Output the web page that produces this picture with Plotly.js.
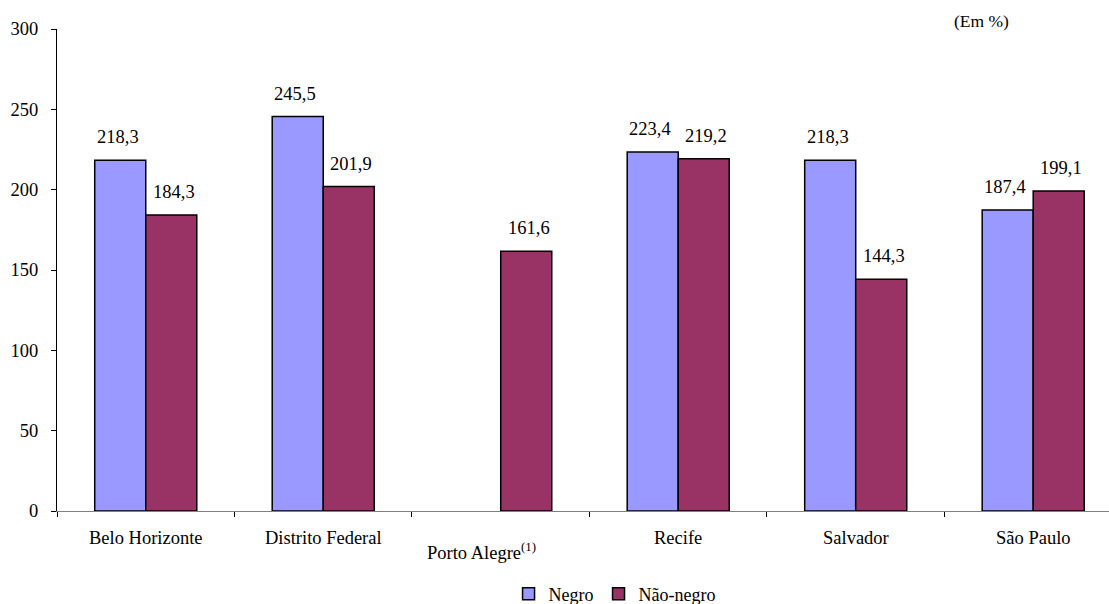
<!DOCTYPE html>
<html><head><meta charset="utf-8">
<script src="https://cdn.plot.ly/plotly-3.0.1.min.js"></script>
<style>html,body{margin:0;padding:0;background:#fff}#chart{width:1109px;height:604px}</style>
</head><body><div id="chart"></div>
<script>
const categories = ["Belo Horizonte","Distrito Federal","Porto Alegre","Recife","Salvador","São Paulo"];
const categoryNotes = ["","","(1)","","",""];
const negro = [218.3, 245.5, null, 223.4, 218.3, 187.4];
const naoNegro = [184.3, 201.9, 161.6, 219.2, 144.3, 199.1];
const seriesNames = ["Negro","Não-negro"];
const unitLabel = "(Em %)";

const FONT = "'Liberation Serif', 'Times New Roman', serif";
const fmt = v => v.toFixed(1).replace(".", ",");
const catWidthPx = (1109-57)/(6 - 0.5 - 0.073);
const barPx = catWidthPx*0.575/2;

const traces = [
  {type:"bar", name:seriesNames[0], x:categories, y:negro,
   marker:{color:"#9999FF", line:{color:"#000", width:1.5}}},
  {type:"bar", name:seriesNames[1], x:categories, y:naoNegro,
   marker:{color:"#993366", line:{color:"#000", width:1.5}}}
];

const annotations = [];
[negro, naoNegro].forEach((arr, s) => {
  arr.forEach((v, i) => {
    if (v === null) return;
    annotations.push({x:categories[i], y:v, xref:"x", yref:"y", text:fmt(v),
      showarrow:false, xshift:(s===0?-1:1)*barPx/2, yshift:23, yanchor:"middle",
      font:{family:FONT, size:18.5, color:"#000"}});
  });
});
categories.forEach((c, i) => {
  const note = categoryNotes[i];
  annotations.push({x:c, y:0, xref:"x", yref:"y",
    text: note ? c + "<sup>" + note + "</sup>" : c,
    showarrow:false, yanchor:"middle", yshift: note ? -40 : -27, xshift: note ? -19 : 0,
    font:{family:FONT, size:18.5, color:"#000"}});
});
annotations.push({x:(981-57)/1052, y:1 - (21-29)/482, xref:"paper", yref:"paper", text:unitLabel,
  showarrow:false, xanchor:"center", yanchor:"middle", font:{family:FONT, size:17.5, color:"#000"}});

const layout = {
  width:1109, height:604,
  margin:{l:57, r:0, t:29, b:93, autoexpand:false},
  paper_bgcolor:"#fff", plot_bgcolor:"#fff",
  barmode:"group", bargap:0.425, bargroupgap:0,
  font:{family:FONT, size:18, color:"#000"},
  showlegend:true,
  legend:{orientation:"h", x:0.53, xanchor:"center", y:1-(594-29)/482, yanchor:"middle",
    font:{family:FONT, size:18, color:"#000"}, itemwidth:30, tracegroupgap:0},
  xaxis:{type:"category", range:[-0.5, 5.427], showticklabels:false, tickson:"boundaries",
    ticks:"outside", ticklen:5, tickcolor:"#000", showline:true, linecolor:"#808080",
    linewidth:1, showgrid:false, zeroline:false, fixedrange:true},
  yaxis:{range:[0,300], tickvals:[0,50,100,150,200,250,300], ticks:"outside", ticklen:5,
    tickcolor:"#000", showline:true, linecolor:"#000", linewidth:1, showgrid:false,
    zeroline:false, ticklabelstandoff:9, tickfont:{family:FONT, size:18.5, color:"#000"}},
  annotations: annotations
};
Plotly.newPlot("chart", traces, layout, {displayModeBar:false, staticPlot:true});
</script></body></html>
